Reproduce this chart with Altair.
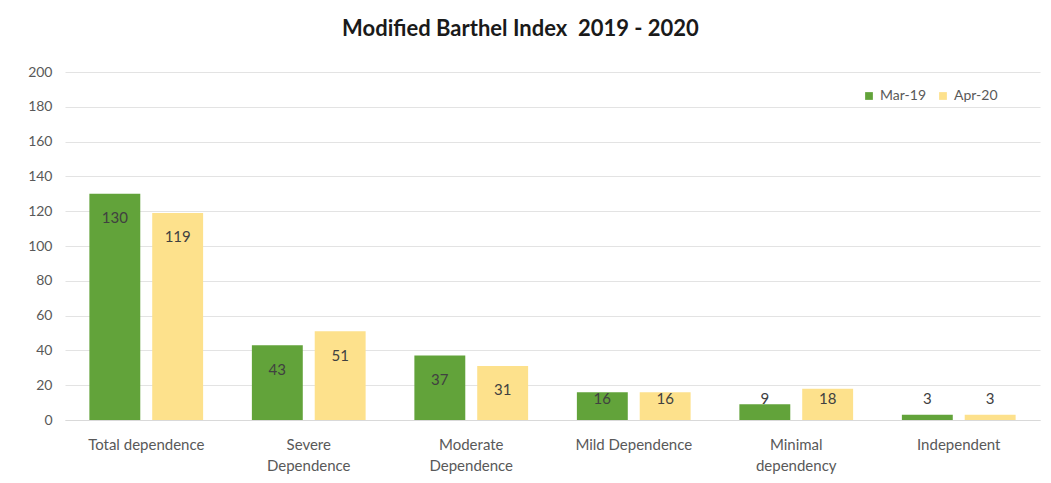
import altair as alt
import pandas as pd

categories = ["Total dependence", "Severe Dependence", "Moderate Dependence",
              "Mild Dependence", "Minimal dependency", "Independent"]
mar19 = [130, 43, 37, 16, 9, 3]
apr20 = [119, 51, 31, 16, 18, 3]
series = ["Mar-19", "Apr-20"]
wrapped = ["Severe Dependence", "Moderate Dependence", "Minimal dependency"]
y_ticks = [0, 20, 40, 60, 80, 100, 120, 140, 160, 180, 200]

rows = []
for c, a, b in zip(categories, mar19, apr20):
    rows.append({"category": c, "series": series[0], "value": a})
    rows.append({"category": c, "series": series[1], "value": b})
df = pd.DataFrame(rows)

FONT = "Lato"
GREY = "#595959"

cond = " || ".join([f"datum.label == '{w}'" for w in wrapped])
label_expr = f"({cond}) ? split(datum.label, ' ') : datum.label"

x = alt.X("category:N", sort=categories, title=None,
          scale=alt.Scale(paddingInner=0.3, paddingOuter=0.15),
          axis=alt.Axis(labelAngle=0, labelFontSize=15, labelColor=GREY, labelFont=FONT,
                        ticks=False, domainColor="#d9d9d9", labelPadding=24,
                        labelLineHeight=21, labelBaseline="middle",
                        labelExpr=label_expr, labelLimit=200))
xo = alt.XOffset("series:N", sort=series,
                 scale=alt.Scale(paddingInner=0.19, paddingOuter=0))

y_axis = alt.Axis(values=y_ticks, tickCount=11, labelFontSize=14, labelColor=GREY,
                  labelFont=FONT, ticks=False, domain=False, gridColor="#e3e3e3",
                  labelPadding=13, labelOverlap=False)
y_scale = alt.Scale(domain=[0, 200], nice=False)

base = alt.Chart(df)

bars = base.mark_bar().encode(
    x=x,
    xOffset=xo,
    y=alt.Y("value:Q", title=None, scale=y_scale, axis=y_axis),
    color=alt.Color("series:N", sort=series,
                    scale=alt.Scale(domain=series, range=["#62a33a", "#fde18c"]),
                    legend=alt.Legend(title=None, orient="none", legendX=797, legendY=17,
                                      direction="horizontal", symbolType="square",
                                      symbolSize=60, labelFontSize=14, labelColor=GREY,
                                      labelFont=FONT, columnPadding=10, symbolStrokeWidth=0)),
)

labels = base.transform_calculate(
    lpos="max(datum.value - 14, 12)"
).mark_text(fontSize=15, color="#404040", font=FONT, baseline="middle").encode(
    x=x,
    xOffset=xo,
    y=alt.Y("lpos:Q", title=None, scale=y_scale, axis=y_axis),
    text=alt.Text("value:Q"),
)

chart = (bars + labels).properties(
    width=975, height=348,
    title=alt.Title("Modified Barthel Index\u00a0 2019 - 2020", fontSize=22, font=FONT,
                    fontWeight="bold", color="#1a1a1a", anchor="middle", dx=-32, offset=24),
    autosize=alt.AutoSizeParams(type="none"),
    padding={"left": 57, "top": 64, "right": 3, "bottom": 55},
).configure_view(stroke=None)

chart.save("out.html", embed_options={"renderer": "svg", "actions": False})
